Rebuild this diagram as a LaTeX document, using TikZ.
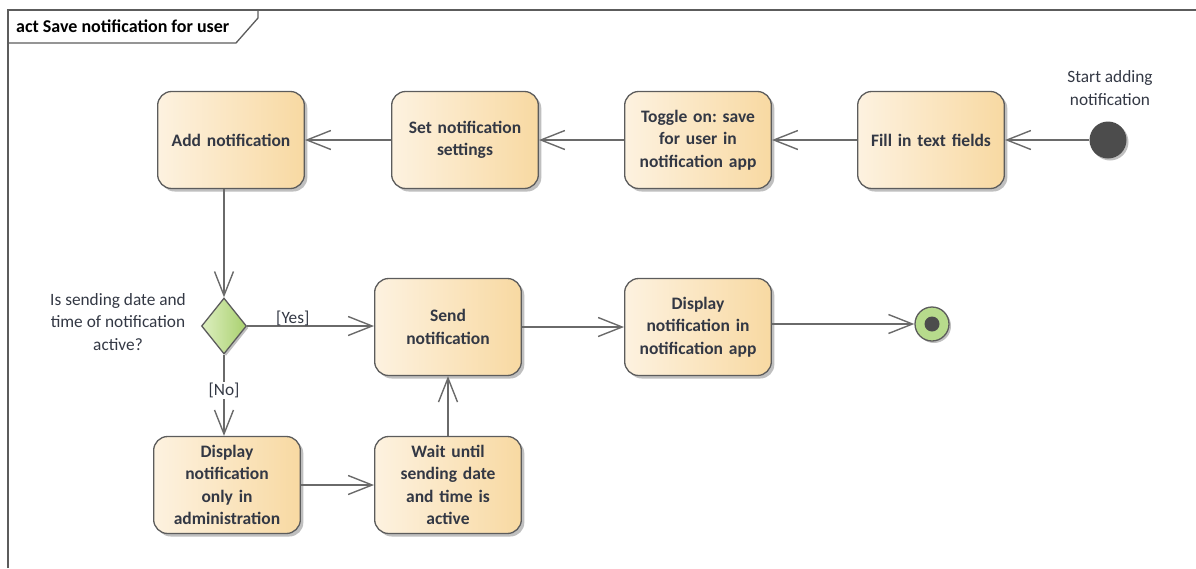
\documentclass[tikz,border=0pt]{standalone}
\usepackage{fontspec}
\setmainfont{Carlito}
\frenchspacing
\usetikzlibrary{arrows.meta,shapes.geometric,shadows}
\definecolor{actL}{HTML}{FDF2E0}
\definecolor{actR}{HTML}{F8D9A2}
\definecolor{decL}{HTML}{DDEFC0}
\definecolor{decR}{HTML}{A9D06E}
\definecolor{edgec}{HTML}{6A6A6A}
\definecolor{bord}{HTML}{5C5C5C}
\definecolor{txt}{HTML}{333844}
\definecolor{finalg}{HTML}{B7DB8C}
\tikzset{
  actbox/.style={draw=bord, line width=1.3pt, rounded corners=14pt,
    left color=actL, right color=actR, minimum width=145pt, minimum height=97pt,
    text width=140pt, align=center, text=txt, font=\fontsize{17.5}{22.5}\selectfont\bfseries,
    drop shadow={shadow xshift=3pt, shadow yshift=-3pt, opacity=0.25, fill=black}},
  decbox/.style={diamond, draw=bord, line width=1.3pt, left color=decL, right color=decR,
    minimum width=45pt, minimum height=56pt, inner sep=0pt, aspect=0.8,
    drop shadow={shadow xshift=2pt, shadow yshift=-2pt, opacity=0.25, fill=black}},
  flow/.style={draw=edgec, line width=1.4pt, -{Straight Barb[length=24pt,width=19pt,line width=1.4pt]}},
  lbl/.style={text=txt, font=\fontsize{17.3}{22.5}\selectfont, align=center},
}
\begin{document}
\begin{tikzpicture}[x=1pt,y=-1pt]
\useasboundingbox (0,0) rectangle (1196,568);
% frame
\draw[draw=bord, line width=1.3pt] (8,568) -- (8,10) -- (1196,10);
\draw[draw=bord, line width=1.3pt] (8,43) -- (236,43) -- (258,18) -- (258,10);
\node[anchor=west, text=black, font=\fontsize{18}{20}\selectfont\bfseries, inner sep=0pt] (title) at (16,26) {act Save notification for user};
% nodes
\node[actbox] (add) at (231,140) {Add notification};
\node[actbox] (set) at (465,140) {Set notification\\settings};
\node[actbox] (tog) at (698,140) {Toggle on: save\\for user in\\notification app};
\node[actbox] (fill) at (931,140) {Fill in text fields};
\node[circle, fill=black!70, minimum size=37pt, inner sep=0pt,
  drop shadow={shadow xshift=2pt, shadow yshift=-2pt, opacity=0.25, fill=black}] (start) at (1108,140) {};
\node[lbl] (startlbl) at (1110,88) {Start adding\\notification};
\node[decbox] (dec) at (224,326) {};
\node[lbl] (q) at (118,322) {Is sending date and\\time of notification\\active?};
\node[actbox] (send) at (448,327) {Send\\notification};
\node[actbox] (disp) at (698,327) {Display\\notification in\\notification app};
\node[circle, draw=bord, line width=1.3pt, fill=finalg, minimum size=34pt, inner sep=0pt,
  drop shadow={shadow xshift=2pt, shadow yshift=-2pt, opacity=0.25, fill=black}] (final) at (932,324) {};
\node[circle, fill=black!70, minimum size=15pt, inner sep=0pt] (finaldot) at (final.center) {};
\node[actbox] (admin) at (227,485) {Display\\notification\\only in\\administration};
\node[actbox] (wait) at (448,485) {Wait until\\sending date\\and time is\\active};
% edges
\draw[flow] (start) -- (fill);
\draw[flow] (fill) -- (tog);
\draw[flow] (tog) -- (set);
\draw[flow] (set) -- (add);
\draw[flow] (add.south -| dec.north) -- (dec.north);
\draw[flow] (dec.east) -- node[lbl, pos=0.36, above=-4pt] (yes) {[Yes]} (send.west |- dec.east);
\draw[flow] (send.east |- disp.west) -- (disp.west);
\draw[flow] (disp.east |- final.west) -- (final.west);
\draw[flow] (dec.south) -- node[lbl, pos=0.44, fill=white, inner sep=1pt] (no) {[No]} (admin.north -| dec.south);
\draw[flow] (admin.east) -- (wait.west);
\draw[flow] (wait) -- (send);
\end{tikzpicture}
\end{document}
